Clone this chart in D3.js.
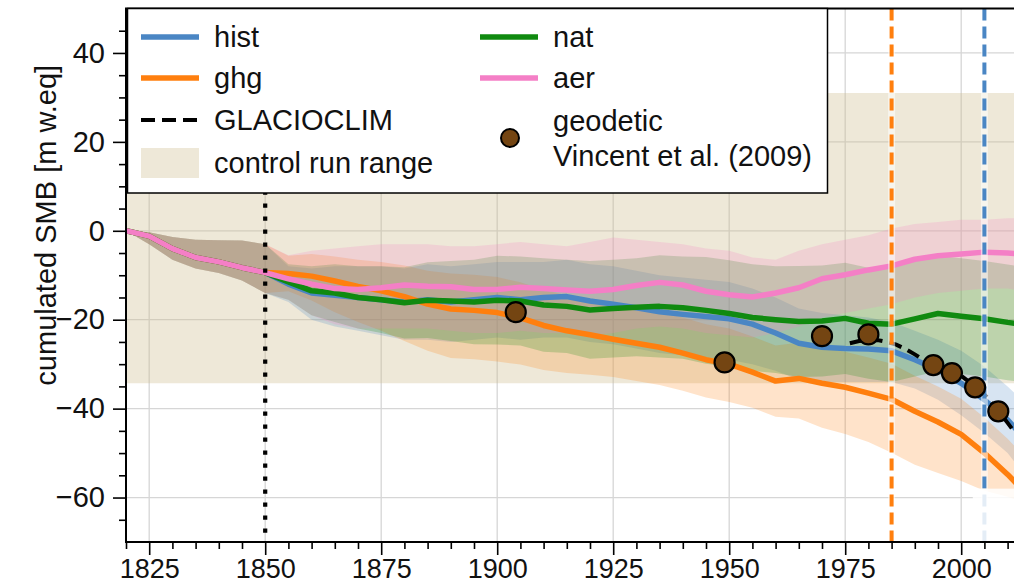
<!DOCTYPE html>
<html>
<head>
<meta charset="utf-8">
<script src="https://cdn.jsdelivr.net/npm/d3@7"></script>
<style>
  html, body { margin: 0; padding: 0; background: #fff; }
  svg { display: block; font-family: "Liberation Sans", Arial, Helvetica, sans-serif; }
</style>
</head>
<body>
<div id="chart"></div>
<script>
// years of the model runs (all runs share the spin-up until 1850)
const years = [1820, 1825, 1830, 1835, 1840, 1845, 1850, 1855, 1860, 1865, 1870, 1875, 1880, 1885, 1890, 1895,
    1900, 1905, 1910, 1915, 1920, 1925, 1930, 1935, 1940, 1945, 1950, 1955, 1960, 1965, 1970, 1975,
    1980, 1985, 1990, 1995, 2000, 2005, 2010, 2013];

const histMean = [0, -1.2, -4, -6, -7, -8.3, -9.4, -12, -14, -14.5, -15, -15.5, -16, -15.5, -16, -15.5,
    -15, -15.5, -15, -14.8, -15.8, -16.5, -17.3, -18.2, -18.8, -19.3, -19.8, -21, -23, -25.3, -26.2, -26.5,
    -26.6, -27, -29, -31.3, -34.3, -38, -42.5, -46];
const histHi = [0, -0.3, -1.4, -2, -2.1, -2.2, -3, -8, -8.5, -8, -8, -8, -8.5, -7.5, -8, -7.5,
    -7, -7, -7, -6.5, -7.5, -8, -9, -10, -10.5, -11, -11.5, -13, -15, -17.5, -18.5, -19,
    -19.5, -20.5, -22.5, -24.5, -27, -30.5, -35, -38];
const histLo = [0, -3, -6.5, -8.5, -9.5, -11.2, -14, -16, -20, -21.5, -22.5, -23.5, -24.5, -24.5, -25, -24.5,
    -24, -24.5, -24, -24, -25, -25.5, -26.5, -27.5, -28, -28.5, -29, -30, -31.5, -33.5, -34, -34,
    -34, -34, -35.5, -38, -41.5, -45.5, -50, -54];

const ghgMean = [0, -1.2, -4, -6, -7, -8.3, -9.4, -9.6, -10.2, -11.3, -12.5, -13.5, -14.8, -16.5, -17.6, -17.9,
    -18.4, -19.6, -21.3, -22.5, -23.4, -24.4, -25.3, -26.2, -27.5, -29, -30, -31.8, -33.8, -33.2, -34.3, -35.2,
    -36.5, -37.9, -40.6, -43, -45.8, -50, -54.8, -58];
const ghgHi = [0, -0.3, -1.4, -2, -2.1, -2.2, -3, -5.6, -5.2, -5.8, -6.5, -7, -7.8, -9, -9.6, -9.9,
    -10.4, -11.6, -13.3, -14.5, -15.4, -16.4, -17.3, -18.2, -19.5, -21, -22, -23.8, -25.8, -25.2, -26.3, -27.2,
    -28.5, -29.9, -32.6, -35, -37.8, -42, -46.8, -50];
const ghgLo = [0, -3, -6.5, -8.5, -9.5, -11.2, -14, -13.6, -15.7, -18.3, -20.5, -22.5, -24.8, -27, -28.6, -28.9,
    -29.4, -30.1, -31.3, -32, -32.4, -32.9, -33.8, -34.7, -36, -37.5, -38.5, -39.8, -41.8, -42.2, -44.3, -45.7,
    -47.5, -49.9, -52.6, -54.5, -56.3, -58.5, -59.8, -61];

const natMean = [0, -1.2, -4, -6, -7, -8.3, -9.4, -11.5, -13.5, -14, -15, -15.5, -16.2, -15.6, -15.8, -16,
    -15.6, -15.8, -16.7, -17, -17.8, -17.5, -17.2, -17, -17.3, -17.9, -18.6, -19.5, -20, -20.4, -20.3, -19.7,
    -20.8, -21, -19.8, -18.6, -19.2, -19.8, -20.6, -21];
const natHi = [0, -0.3, -1.4, -2, -2.1, -2.2, -3, -7.5, -8, -7.5, -8, -8, -8.2, -7.1, -6.8, -6.5,
    -5.6, -5.8, -6.2, -6.5, -6.8, -6.5, -6.2, -5.5, -5.8, -5.9, -6.6, -7.5, -8, -7.9, -7.8, -7.2,
    -8.3, -8, -6.8, -5.6, -6.2, -6.8, -7.6, -8];
const natLo = [0, -3, -6.5, -8.5, -9.5, -11.2, -14, -15.5, -19, -20.5, -22, -23, -24.2, -24.1, -24.8, -25.5,
    -25.6, -25.8, -27.2, -27.5, -28.8, -28.5, -28.2, -28.5, -28.8, -29.9, -30.6, -31.5, -32, -32.9, -32.8, -32.2,
    -33.3, -34, -32.8, -31.6, -32.2, -32.8, -33.6, -34];

const aerMean = [0, -1.2, -4, -6, -7, -8.3, -9.4, -10.8, -12, -13, -13.2, -12.8, -12.2, -12.5, -12.6, -13.2,
    -13.2, -12.7, -13, -13.3, -13.6, -13.2, -12.3, -11.6, -12.2, -13.6, -14.4, -14.9, -14, -12.8, -10.8, -9.9,
    -8.8, -7.9, -6.4, -5.6, -5.2, -4.8, -5, -5.2];
const aerHi = [0, -0.3, -1.4, -2, -2.1, -2.2, -3, -5.5, -4.5, -4, -3.5, -3, -3, -3, -3.5, -3.5,
    -3, -2.5, -3, -3.5, -2.5, -1.5, -2, -2.5, -3, -4, -4.5, -6, -6.5, -4.5, -3, -2,
    -1, 0.5, 1.5, 2, 2.5, 2.5, 2.8, 2.8];
const aerLo = [0, -3, -6.5, -8.5, -9.5, -11.2, -14, -15.5, -19, -21, -22, -22, -22, -22, -22.5, -23,
    -23, -22.5, -23, -23, -23.5, -23, -22, -21.5, -22, -23, -23.5, -24, -23, -21.5, -19.5, -18.5,
    -17.5, -16.5, -15, -14, -13.5, -13, -13, -13.5];

// control run range
const ctrlYears = [1820, 2013];
const ctrlLo = [-34.3, -34.3];
const ctrlHi = [31, 31];

// GLACIOCLIM observations
const glacioYears = [1976, 1978, 1980, 1982, 1984, 1986, 1988, 1990, 1992, 1994, 1996, 1998, 2000, 2002, 2004, 2006, 2008, 2010, 2012];
const glacioSMB = [-25.3, -24.8, -24.6, -24.6, -25, -25.6, -26.6, -27.8, -29.1, -30.2, -31, -31.8, -32.6, -34.2, -35.7, -38, -40.5, -43.2, -46];

// geodetic, Vincent et al. (2009)
const geoYears = [1904, 1949, 1970, 1980, 1994, 1998, 2003, 2008];
const geoSMB = [-18.3, -29.6, -23.7, -23.3, -30.2, -32, -35.2, -40.6];

// vertical markers
const vYears = [1850, 1985, 2005];

const xMajor = [1825, 1850, 1875, 1900, 1925, 1950, 1975, 2000];
const yMajor = [-60, -40, -20, 0, 20, 40];

const colors = { hist: "#4a86c4", ghg: "#ff7f0e", nat: "#108a10", aer: "#f47fc6" };
const ctrlColor = "#cdbd8f";

const series = [
    { name: "hist", mean: histMean, lo: histLo, hi: histHi },
    { name: "ghg", mean: ghgMean, lo: ghgLo, hi: ghgHi },
    { name: "nat", mean: natMean, lo: natLo, hi: natHi },
    { name: "aer", mean: aerMean, lo: aerLo, hi: aerHi }
];

const width = 1014;
const height = 586;
const margin = { top: 8.5, left: 126, bottom: 44 };
const plotRight = margin.left + 193 * 4.64;

const x = d3.scaleLinear().domain([1820, 2013]).range([margin.left, plotRight]);
const y = d3.scaleLinear().domain([-70, 50]).range([height - margin.bottom, margin.top]);

const svg = d3.select("#chart")
    .append("svg")
    .attr("width", width)
    .attr("height", height);

svg.append("clipPath").attr("id", "clip")
    .append("rect")
    .attr("x", x(1820)).attr("y", y(50))
    .attr("width", x(2013) - x(1820)).attr("height", y(-70) - y(50));

const plot = svg.append("g").attr("clip-path", "url(#clip)");

// grid
plot.selectAll(".gx").data(xMajor).enter().append("line")
    .attr("x1", d => x(d)).attr("x2", d => x(d))
    .attr("y1", y(50)).attr("y2", y(-70))
    .attr("stroke", "#d6d6d6").attr("stroke-width", 1.3);
plot.selectAll(".gy").data(yMajor).enter().append("line")
    .attr("x1", x(1820)).attr("x2", x(2013))
    .attr("y1", d => y(d)).attr("y2", d => y(d))
    .attr("stroke", "#d6d6d6").attr("stroke-width", 1.3);

// control run range
const ctrlArea = d3.area()
    .x((d, i) => x(ctrlYears[i]))
    .y0((d, i) => y(ctrlLo[i]))
    .y1((d, i) => y(ctrlHi[i]));
plot.append("path")
    .attr("d", ctrlArea(ctrlYears))
    .attr("fill", ctrlColor)
    .attr("fill-opacity", 0.35);

// spread of each ensemble
series.forEach(s => {
    const area = d3.area()
        .x((d, i) => x(years[i]))
        .y0((d, i) => y(s.lo[i]))
        .y1((d, i) => y(s.hi[i]));
    plot.append("path")
        .attr("d", area(years))
        .attr("fill", colors[s.name])
        .attr("fill-opacity", 0.22);
});

// ensemble means
series.forEach(s => {
    const line = d3.line()
        .x((d, i) => x(years[i]))
        .y((d, i) => y(s.mean[i]));
    plot.append("path")
        .attr("d", line(years))
        .attr("fill", "none")
        .attr("stroke", colors[s.name])
        .attr("stroke-width", 5.5)
        .attr("stroke-linejoin", "round");
});

// GLACIOCLIM
const glacioLine = d3.line()
    .x((d, i) => x(glacioYears[i]))
    .y((d, i) => y(glacioSMB[i]));
plot.append("path")
    .attr("d", glacioLine(glacioYears))
    .attr("fill", "none")
    .attr("stroke", "#000")
    .attr("stroke-width", 4)
    .attr("stroke-dasharray", "13,7");

// vertical markers
const vStyle = [
    { color: "#000", width: 4.2, dash: "4.2,8.8", halo: false },
    { color: colors.ghg, width: 4, dash: "12,6", halo: true },
    { color: colors.hist, width: 4, dash: "12,6", halo: true }
];
vYears.forEach((v, i) => {
    if (vStyle[i].halo) {
        plot.append("line")
            .attr("x1", x(v)).attr("x2", x(v))
            .attr("y1", y(50)).attr("y2", y(-70))
            .attr("stroke", "#fff").attr("stroke-opacity", 0.55).attr("stroke-width", 7);
    }
    plot.append("line")
        .attr("x1", x(v)).attr("x2", x(v))
        .attr("y1", y(50)).attr("y2", y(-70))
        .attr("stroke", vStyle[i].color)
        .attr("stroke-width", vStyle[i].width)
        .attr("stroke-dasharray", vStyle[i].dash);
});

// geodetic
plot.selectAll(".geo")
    .data(geoYears)
    .enter()
    .append("circle")
    .attr("cx", d => x(d))
    .attr("cy", (d, i) => y(geoSMB[i]))
    .attr("r", 10)
    .attr("fill", "#744512")
    .attr("stroke", "#000")
    .attr("stroke-width", 2.2);

// pale patch at the lower right corner
plot.append("rect")
    .attr("x", x(2002.5)).attr("y", y(-58))
    .attr("width", x(2013) - x(2002.5)).attr("height", y(-70) - y(-58))
    .attr("fill", "#fff").attr("fill-opacity", 0.85);

// axes
svg.append("g")
    .attr("transform", `translate(${margin.left},0)`)
    .call(d3.axisLeft(y).tickValues(yMajor).tickSize(13).tickPadding(8).tickSizeOuter(0));
svg.append("g")
    .attr("transform", `translate(${margin.left},0)`)
    .call(d3.axisLeft(y).tickValues(d3.range(-65, 50, 5).filter(d => d % 20 !== 0)).tickSize(7).tickFormat(""));

const xAxis = svg.append("g")
    .attr("transform", `translate(0,${y(-70)})`)
    .call(d3.axisBottom(x).tickValues(xMajor).tickSize(13).tickPadding(4).tickSizeOuter(0).tickFormat(d3.format("d")));
svg.append("g")
    .attr("transform", `translate(0,${y(-70)})`)
    .call(d3.axisBottom(x).tickValues(d3.range(1820, 2014, 5).filter(d => (d - 1825) % 25 !== 0)).tickSize(7).tickFormat(""));

svg.selectAll(".domain").remove();
svg.selectAll(".tick line").attr("stroke", "#000").attr("stroke-width", 1.6);
svg.selectAll(".tick text").attr("font-size", "29px").attr("fill", "#111")
    .attr("font-family", "'Liberation Sans', Arial, Helvetica, sans-serif");
xAxis.selectAll(".tick text").attr("font-size", "27px");

// frame
svg.append("path")
    .attr("d", `M${plotRight + 10},${y(50)}H${x(1820)}V${y(-70)}H${plotRight + 10}`)
    .attr("fill", "none")
    .attr("stroke", "#000")
    .attr("stroke-width", 2);

svg.append("text")
    .attr("transform", `translate(46,${(y(50) + y(-70)) / 2 - 50}) rotate(-90)`)
    .attr("text-anchor", "middle")
    .attr("dy", "0.35em")
    .attr("font-size", "29px")
    .attr("fill", "#111")
    .text("cumulated SMB [m w.eq]");

// legend
const legend = svg.append("g");
legend.append("rect")
    .attr("x", 127.5).attr("y", 8.5)
    .attr("width", 700).attr("height", 184.5)
    .attr("fill", "#fff")
    .attr("stroke", "#000")
    .attr("stroke-width", 1.5);

const legLines = [
    { label: "hist", color: colors.hist, x0: 141, ly: 37, dash: null },
    { label: "ghg", color: colors.ghg, x0: 141, ly: 78, dash: null },
    { label: "GLACIOCLIM", color: "#000", x0: 141, ly: 120, dash: "14,7" },
    { label: "nat", color: colors.nat, x0: 480, ly: 37, dash: null },
    { label: "aer", color: colors.aer, x0: 480, ly: 78, dash: null }
];
legLines.forEach(d => {
    legend.append("line")
        .attr("x1", d.x0).attr("x2", d.x0 + 58)
        .attr("y1", d.ly).attr("y2", d.ly)
        .attr("stroke", d.color)
        .attr("stroke-width", d.dash ? 4 : 5.5)
        .attr("stroke-dasharray", d.dash);
    legend.append("text")
        .attr("x", d.x0 + 73).attr("y", d.ly)
        .attr("dy", "0.35em")
        .attr("font-size", "29px")
        .attr("fill", "#111")
        .text(d.label);
});

legend.append("rect")
    .attr("x", 141).attr("y", 148)
    .attr("width", 58).attr("height", 30)
    .attr("fill", ctrlColor).attr("fill-opacity", 0.35);
legend.append("text")
    .attr("x", 214).attr("y", 163)
    .attr("dy", "0.35em")
    .attr("font-size", "29px")
    .attr("fill", "#111")
    .text("control run range");

legend.append("circle")
    .attr("cx", 510).attr("cy", 138).attr("r", 9)
    .attr("fill", "#744512").attr("stroke", "#000").attr("stroke-width", 2);
legend.append("text")
    .attr("x", 553).attr("y", 121)
    .attr("dy", "0.35em")
    .attr("font-size", "29px")
    .attr("fill", "#111")
    .text("geodetic");
legend.append("text")
    .attr("x", 553).attr("y", 156)
    .attr("dy", "0.35em")
    .attr("font-size", "29px")
    .attr("fill", "#111")
    .text("Vincent et al. (2009)");
</script>
</body>
</html>
